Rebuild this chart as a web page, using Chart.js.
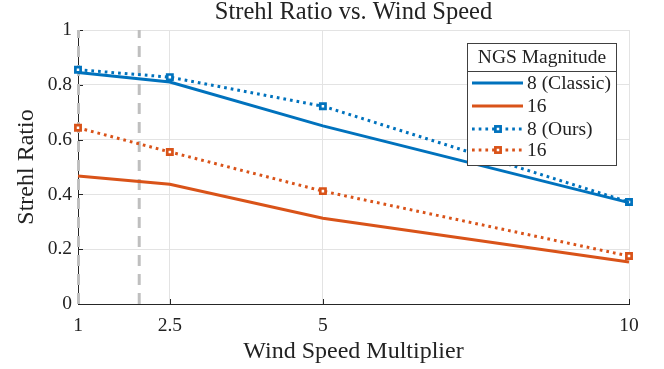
<!DOCTYPE html>
<html>
<head>
<meta charset="utf-8">
<script src="https://cdn.jsdelivr.net/npm/chart.js@4.4.0/dist/chart.umd.min.js"></script>
<style>
  html, body { margin: 0; padding: 0; background: #fff; }
  #wrap { width: 664px; height: 369px; }
</style>
</head>
<body>
<div id="wrap"><canvas id="chart-strehl"></canvas></div>
<script>
// values
const windSpeed = [1, 2.5, 5, 10];
const classic8 = [0.845, 0.81, 0.65, 0.37];
const classic16 = [0.467, 0.437, 0.313, 0.153];
const ours8 = [0.855, 0.828, 0.722, 0.372];
const ours16 = [0.643, 0.555, 0.412, 0.175];
const xTicks = [1, 2.5, 5, 10];
const yTicks = [0, 0.2, 0.4, 0.6, 0.8, 1];
const refLines = [1, 2];

const TITLE = 'Strehl Ratio vs. Wind Speed';
const X_LABEL = 'Wind Speed Multiplier';
const Y_LABEL = 'Strehl Ratio';
const LEGEND_TITLE = 'NGS Magnitude';

const COLORS = {
  blue: '#0072BD',
  orange: '#D95319',
  axis: '#262626',
  grid: '#e3e3e3',
  ref: '#bfbfbf'
};
const FONT = '"Liberation Serif", "DejaVu Serif", serif';

const toPoints = (ys) => windSpeed.map((x, i) => ({ x, y: ys[i] }));

function lineSet(label, ys, color, dotted) {
  return {
    label,
    data: toPoints(ys),
    showLine: true,
    borderColor: color,
    backgroundColor: '#fff',
    borderWidth: 3,
    borderDash: dotted ? [2.7, 4] : [],
    borderCapStyle: 'butt',
    tension: 0,
    pointStyle: 'rect',
    pointRadius: dotted ? 3.7 : 0,
    pointBorderWidth: 2.7,
    pointBorderColor: color,
    pointBackgroundColor: '#fff',
    clip: false
  };
}

const datasets = [
  lineSet('8 (Classic)', classic8, COLORS.blue, false),
  lineSet('16', classic16, COLORS.orange, false),
  lineSet('8 (Ours)', ours8, COLORS.blue, true),
  lineSet('16', ours16, COLORS.orange, true)
];

// dashed reference lines + inward ticks, drawn above the grid and under the data
const overlayPlugin = {
  id: 'overlay',
  beforeDatasetsDraw(chart) {
    const { ctx, chartArea: a, scales: { x, y } } = chart;
    ctx.save();
    ctx.strokeStyle = COLORS.axis;
    ctx.lineWidth = 1;
    ctx.beginPath();
    xTicks.forEach(v => {
      const px = Math.round(x.getPixelForValue(v)) + 0.5;
      ctx.moveTo(px, a.bottom);
      ctx.lineTo(px, a.bottom - 5);
    });
    yTicks.forEach(v => {
      const py = Math.round(y.getPixelForValue(v)) + 0.5;
      ctx.moveTo(a.left, py);
      ctx.lineTo(a.left + 5, py);
    });
    ctx.stroke();

    ctx.strokeStyle = COLORS.ref;
    ctx.lineWidth = 3;
    ctx.setLineDash([11, 8]);
    refLines.forEach(v => {
      const px = x.getPixelForValue(v) + (v === 1 ? 0.5 : 0);
      ctx.beginPath();
      ctx.moveTo(px, a.bottom);
      ctx.lineTo(px, a.top);
      ctx.stroke();
    });
    ctx.restore();
  },
  afterDraw(chart) {
    const { ctx, chartArea: a } = chart;
    ctx.save();
    ctx.fillStyle = '#222';
    ctx.textAlign = 'center';
    ctx.textBaseline = 'alphabetic';
    ctx.font = `24.5px ${FONT}`;
    ctx.fillText(TITLE, (a.left + a.right) / 2, 19);
    ctx.font = `24px ${FONT}`;
    ctx.fillText(X_LABEL, (a.left + a.right) / 2, 358);
    ctx.translate(33, (a.top + a.bottom) / 2);
    ctx.rotate(-Math.PI / 2);
    ctx.fillText(Y_LABEL, 0, 0);
    ctx.restore();
    drawLegend(chart);
  }
};

function drawLegend(chart) {
  const { ctx } = chart;
  const box = { left: 467.5, top: 43.5, right: 616.5, bottom: 165.5, sep: 71.5 };
  const rows = [83, 106, 129, 150];
  ctx.save();
  ctx.fillStyle = '#fff';
  ctx.fillRect(box.left, box.top, box.right - box.left, box.bottom - box.top);
  ctx.strokeStyle = '#404040';
  ctx.lineWidth = 1;
  ctx.strokeRect(box.left, box.top, box.right - box.left, box.bottom - box.top);
  ctx.beginPath();
  ctx.moveTo(box.left, box.sep);
  ctx.lineTo(box.right, box.sep);
  ctx.stroke();

  ctx.fillStyle = '#222';
  ctx.font = `19.5px ${FONT}`;
  ctx.textAlign = 'center';
  ctx.textBaseline = 'middle';
  ctx.fillText(LEGEND_TITLE, (box.left + box.right) / 2, 58);

  ctx.textAlign = 'left';
  chart.data.datasets.forEach((ds, i) => {
    const yy = rows[i];
    ctx.strokeStyle = ds.borderColor;
    ctx.lineWidth = ds.borderWidth;
    ctx.setLineDash(ds.borderDash);
    ctx.beginPath();
    ctx.moveTo(472, yy);
    ctx.lineTo(523, yy);
    ctx.stroke();
    ctx.setLineDash([]);
    if (ds.pointRadius > 0) {
      ctx.fillStyle = '#fff';
      ctx.lineWidth = ds.pointBorderWidth;
      ctx.strokeStyle = ds.pointBorderColor;
      const s = ds.pointRadius * Math.SQRT1_2;
      ctx.fillRect(498 - s, yy - s, 2 * s, 2 * s);
      ctx.strokeRect(498 - s, yy - s, 2 * s, 2 * s);
    }
    ctx.fillStyle = '#222';
    ctx.fillText(ds.label, 527, yy + 1);
  });
  ctx.restore();
}

new Chart(document.getElementById('chart-strehl'), {
  type: 'scatter',
  data: { datasets },
  options: {
    responsive: true,
    maintainAspectRatio: false,
    animation: false,
    layout: { padding: { top: 30, right: 35, bottom: 0, left: 0 } },
    scales: {
      x: {
        type: 'linear',
        min: 1,
        max: 10,
        afterBuildTicks: (scale) => { scale.ticks = xTicks.map(v => ({ value: v })); },
        afterFit: (scale) => { scale.height = 65; },
        ticks: {
          color: '#222',
          font: { family: FONT, size: 19.5 },
          padding: 10,
          maxRotation: 0,
          callback: (v) => `${v}`
        },
        grid: { color: COLORS.grid, drawTicks: false },
        border: { color: COLORS.axis, width: 1 }
      },
      y: {
        min: 0,
        max: 1,
        afterBuildTicks: (scale) => { scale.ticks = yTicks.map(v => ({ value: v })); },
        afterFit: (scale) => { scale.width = 78; },
        ticks: {
          color: '#222',
          font: { family: FONT, size: 19.5 },
          padding: 6,
          callback: (v) => `${Math.round(v * 10) / 10}`
        },
        grid: { color: COLORS.grid, drawTicks: false },
        border: { color: COLORS.axis, width: 1 }
      }
    },
    plugins: {
      legend: { display: false },
      tooltip: { enabled: false }
    }
  },
  plugins: [overlayPlugin]
});
</script>
</body>
</html>
